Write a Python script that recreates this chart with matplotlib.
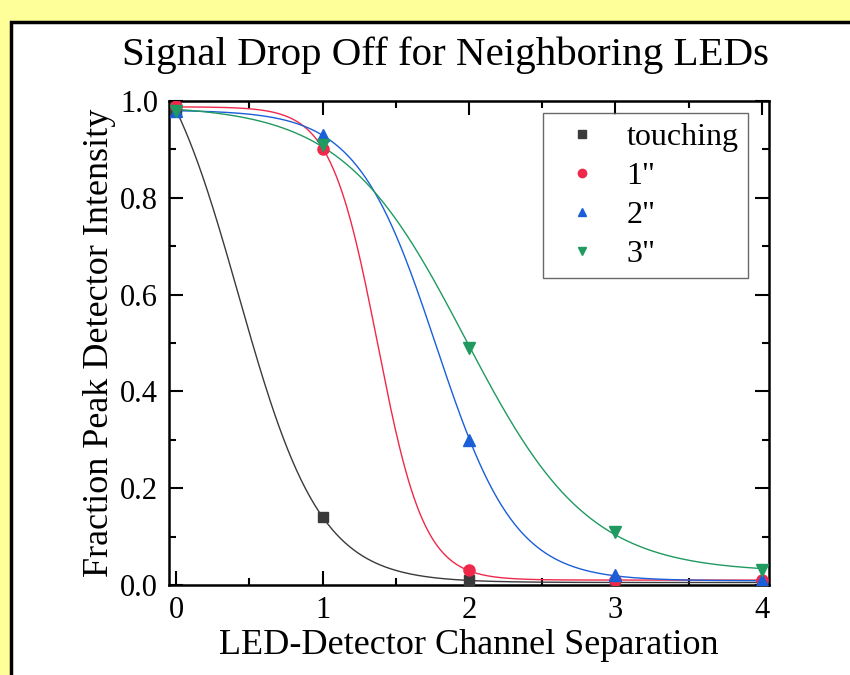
import numpy as np
import matplotlib
matplotlib.use('Agg')
import matplotlib.pyplot as plt
from matplotlib.patches import Rectangle
from matplotlib.ticker import MultipleLocator

# data
separation = [0, 1, 2, 3, 4]
touching = [0.98, 0.14, 0.01, 0.005, 0.005]
one_inch = [0.99, 0.90, 0.03, 0.01, 0.01]
two_inch = [0.98, 0.93, 0.30, 0.02, 0.01]
three_inch = [0.98, 0.91, 0.49, 0.11, 0.03]
labels = ['touching', '1"', '2"', '3"']

colors = ['#3a3a3a', '#f0284a', '#1a5fd8', '#1f9a60']
markers = ['s', 'o', '^', 'v']


def boltzmann_fit(x, y):
    # Boltzmann sigmoid fit: grid over x0/dx, A1/A2 by linear least squares
    x = np.asarray(x, float)
    y = np.asarray(y, float)
    best = None
    for x0 in np.linspace(0.0, 3.5, 141):
        for dx in np.linspace(0.05, 1.2, 116):
            s = 1.0 / (1.0 + np.exp((x - x0) / dx))
            M = np.column_stack([s, 1 - s])
            coef, *_ = np.linalg.lstsq(M, y, rcond=None)
            err = np.sum((M @ coef - y) ** 2)
            if best is None or err < best[0]:
                best = (err, x0, dx, coef)
    _, x0, dx, (a1, a2) = best
    return lambda t: a2 + (a1 - a2) / (1.0 + np.exp((t - x0) / dx))


plt.rcParams['font.family'] = ['Liberation Serif', 'DejaVu Serif']

fig = plt.figure(figsize=(8.5, 6.75), dpi=100)
fig.patch.set_facecolor('#ffff99')
# white panel with black frame, running off the right and bottom edges
fig.patches.append(Rectangle((11 / 850, -0.05), 1.1, 1 - 22 / 675 + 0.05,
                             transform=fig.transFigure, facecolor='white',
                             edgecolor='black', linewidth=2.5, zorder=-10))

ax = fig.add_axes([169 / 850, 1 - 585 / 675, 600 / 850, 484 / 675])
ax.set_zorder(5)
ax.set_facecolor('white')

xs = np.linspace(0, 4, 400)
series = [touching, one_inch, two_inch, three_inch]
for ys, c, m, lab in zip(series, colors, markers, labels):
    f = boltzmann_fit(separation, ys)
    ax.plot(xs, f(xs), color=c, linewidth=1.0, zorder=2)
    ax.plot(separation, ys, linestyle='none', marker=m, color=c,
            markersize=8 if m != 's' else 7, label=lab, zorder=3)

ax.set_xlim(-0.05, 4.05)
ax.set_ylim(0, 1.0)
ax.xaxis.set_major_locator(MultipleLocator(1))
ax.xaxis.set_minor_locator(MultipleLocator(0.5))
ax.yaxis.set_major_locator(MultipleLocator(0.2))
ax.yaxis.set_minor_locator(MultipleLocator(0.1))
ax.yaxis.set_major_formatter(matplotlib.ticker.FormatStrFormatter('%.1f'))
ax.tick_params(which='both', direction='in', top=True, right=True,
               labelsize=22, width=1.5)
ax.tick_params(which='major', length=10, pad=8)
ax.tick_params(which='minor', length=5)
for sp in ax.spines.values():
    sp.set_linewidth(1.8)

ax.set_xlabel('LED-Detector Channel Separation', fontsize=26, labelpad=3)
ax.set_ylabel('Fraction Peak Detector Intensity', fontsize=26, labelpad=3)
fig.text(446 / 850, 1 - 55 / 675, 'Signal Drop Off for Neighboring LEDs',
         fontsize=29.5, ha='center', va='center')

leg = ax.legend(loc='upper right', bbox_to_anchor=(0.965, 0.975), fontsize=23,
                frameon=True, fancybox=False, edgecolor='#444444',
                handletextpad=0.5, borderpad=0.3, labelspacing=0.3,
                handlelength=1.8, markerscale=0.75, borderaxespad=0)
leg.get_frame().set_linewidth(1.0)

fig.savefig('out.png', dpi=100, facecolor=fig.get_facecolor())
